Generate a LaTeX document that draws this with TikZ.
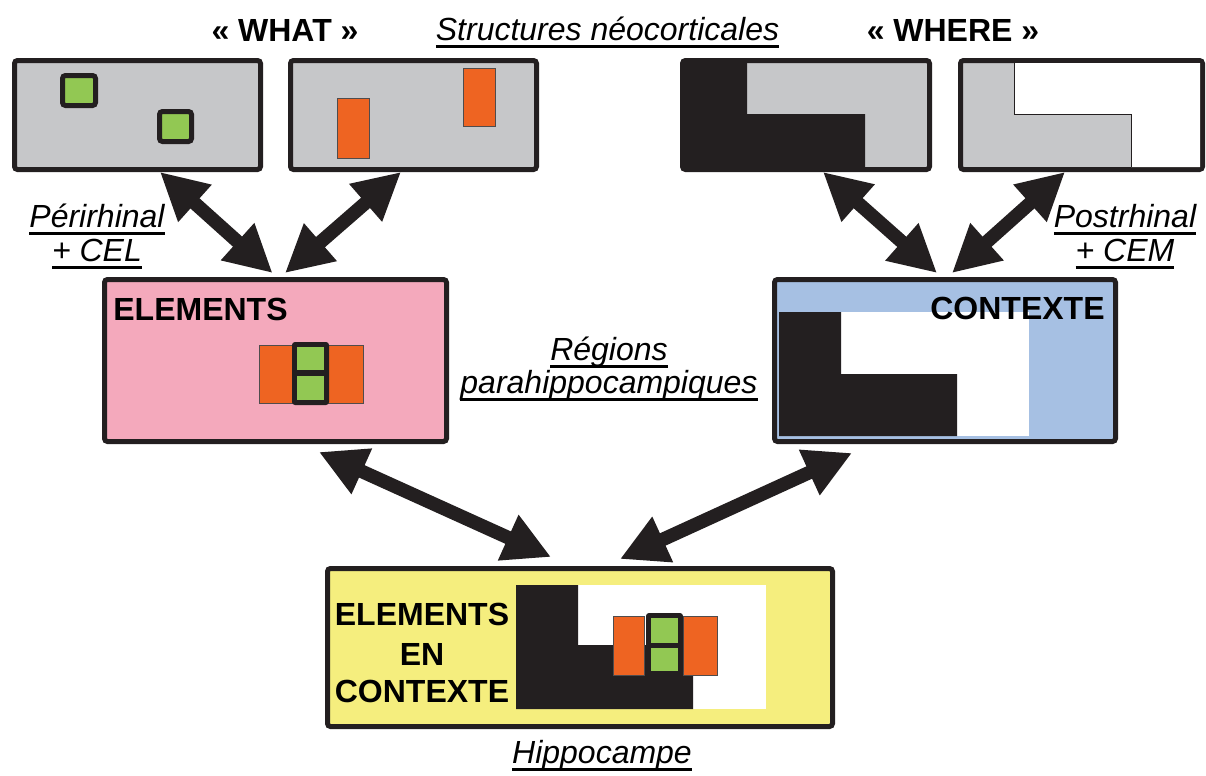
\documentclass[tikz,border=0pt]{standalone}
\usepackage{fontspec}
\setmainfont{Liberation Sans}
\usetikzlibrary{arrows.meta,calc}
\definecolor{ink}{HTML}{231F20}
\definecolor{grisfond}{HTML}{C6C7C9}
\definecolor{vert}{HTML}{92C853}
\definecolor{orangeobj}{HTML}{EE6422}
\definecolor{rose}{HTML}{F4A9BC}
\definecolor{bleu}{HTML}{A6C0E3}
\definecolor{jaune}{HTML}{F5EE7E}
\newcommand\souligne[1]{\setbox0\hbox{#1}\leavevmode\rlap{\copy0}\rule[-3.8pt]{\wd0}{1.2pt}}
\begin{document}
\begin{tikzpicture}[x=0.5pt,y=-0.5pt,
    panel/.style 2 args={draw=ink, line width=2.5pt, rounded corners=1.5pt, inner sep=0pt, minimum width=#1*0.5pt, minimum height=#2*0.5pt},
    carre/.style={fill=vert, draw=ink, line width=2.5pt, rounded corners=1.5pt},
    bloc/.style={fill=orangeobj, draw=ink!80, line width=0.4pt},
    titre/.style={font=\bfseries\fontsize{16}{18}\selectfont, inner sep=0pt, anchor=base},
    legende/.style={font=\itshape\fontsize{16}{18}\selectfont, inner sep=0pt, anchor=base},
    fleche/.style={draw=ink, line width=6.8pt, <->, >={Triangle[length=23.5pt,width=23.5pt]}}]
\useasboundingbox (0,0) rectangle (1206,776);

% structures neocorticales
\node[panel={246}{109}, fill=grisfond] (w1) at (137.5,115) {};
\node[panel={246}{109}, fill=grisfond] (w2) at (413.5,115) {};
\node[panel={247}{109}, fill=grisfond] (h1) at (806,115) {};
\node[panel={242}{109}, fill=grisfond] (h2) at (1081.5,115) {};
\draw[carre] (62.5,75.5) rectangle (95.5,105.5);
\draw[carre] (159.5,111.5) rectangle (191.5,141.5);
\draw[bloc] (337,98) rectangle (369,158);
\draw[bloc] (463,68) rectangle (495,126);
\fill[ink] (685,63) -- (747,63) -- (747,114) -- (865,114) -- (865,167) -- (685,167) -- cycle;
\fill[white] (1014,63) -- (1200,63) -- (1200,167) -- (1131,167) -- (1131,114) -- (1014,114) -- cycle;
\draw[ink, line width=0.4pt] (1014,63) -- (1014,114) -- (1131,114) -- (1131,167);

% regions parahippocampiques
\node[panel={342}{162}, fill=rose] (elem) at (275.5,360.5) {};
\node[panel={341}{162}, fill=bleu] (ctx) at (945,360.5) {};
\node[titre, anchor=base west] (elemlbl) at (113,320) {ELEMENTS};
\draw[bloc] (259,345) rectangle (363,403);
\fill[ink, rounded corners=1.5pt] (292,342) rectangle (329,405);
\fill[vert] (297,347) rectangle (324,370);
\fill[vert] (297,376) rectangle (324,400);
\fill[white] (779,312) rectangle (1029,436);
\fill[ink] (779,312) -- (841,312) -- (841,374) -- (957,374) -- (957,436) -- (779,436) -- cycle;
\node[titre, anchor=base east] (ctxlbl) at (1105,319) {CONTEXTE};

% hippocampe
\node[panel={505}{158}, fill=jaune] (hippo) at (580,647.5) {};
\fill[white] (516,585) rectangle (766,709);
\fill[ink] (516,585) -- (578,585) -- (578,645) -- (693,645) -- (693,709) -- (516,709) -- cycle;
\draw[bloc] (613,616) rectangle (644,675);
\draw[bloc] (683,616) rectangle (717,675);
\fill[ink, rounded corners=1.5pt] (646,613) rectangle (683,675);
\fill[vert] (651,618) rectangle (678,643);
\fill[vert] (651,648) rectangle (678,671);
\node[titre] (hl1) at (422,625) {ELEMENTS};
\node[titre] (hl2) at (422,665) {EN};
\node[titre] (hl3) at (422,702) {CONTEXTE};

% titres et legendes
\node[titre] (what) at (285,41) {« WHAT »};
\node[legende] (neo) at (607.5,40) {\souligne{Structures néocorticales}};
\node[titre] (where) at (953,41) {« WHERE »};
\node[legende] (peri1) at (97,227) {\souligne{Périrhinal}};
\node[legende] (peri2) at (97,261) {\souligne{+ CEL}};
\node[legende] (post1) at (1125,227) {\souligne{Postrhinal}};
\node[legende] (post2) at (1125,261) {\souligne{+ CEM}};
\node[legende] (para1) at (609,360) {\souligne{Régions}};
\node[legende] (para2) at (609,393) {\souligne{parahippocampiques}};
\node[legende] (hippolbl) at (602,763) {\souligne{Hippocampe}};

% fleches
\draw[fleche] ($(w1.south)+(22.5,0)$) -- ($(elem.north)+(-3,-4)$);
\draw[fleche] ($(w2.south)+(-12.5,0)$) -- ($(elem.north)+(9.5,-4)$);
\draw[fleche] ($(h1.south)+(17,0)$) -- ($(ctx.north)+(-8,-4)$);
\draw[fleche] ($(h2.south)+(-16.5,0)$) -- ($(ctx.north)+(7,-4)$);
\draw[fleche] ($(elem.south)+(43.5,8)$) -- ($(hippo.north)+(-29,-9)$);
\draw[fleche] ($(ctx.south)+(-93,9)$) -- ($(hippo.north)+(40,-7)$);
\end{tikzpicture}
\end{document}
